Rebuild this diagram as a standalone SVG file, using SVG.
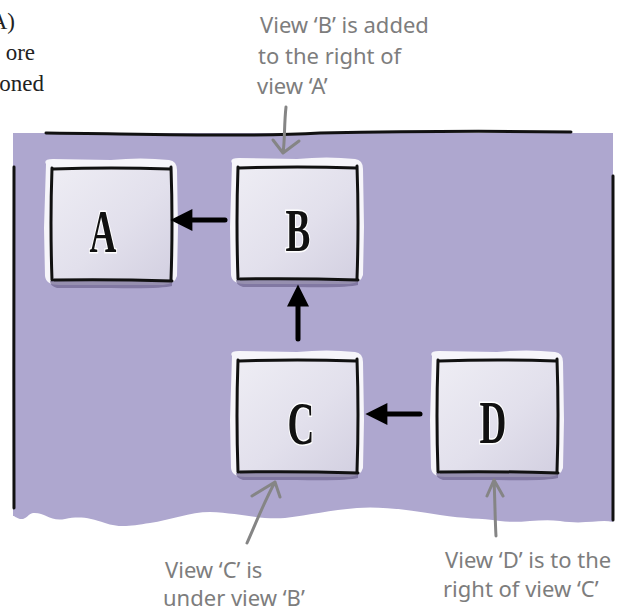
<svg xmlns="http://www.w3.org/2000/svg" width="631" height="612" viewBox="0 0 631 612">
<style>
.note{font-family:"Noto Sans","DejaVu Sans",sans-serif;font-size:22px;fill:#7d7d7d}
.serif{font-family:"Liberation Serif",serif;font-size:23px;fill:#222}
.lbl{font-family:"Liberation Serif",serif;font-weight:bold;font-size:62px;fill:#111;stroke:#fff;stroke-width:3;paint-order:stroke;text-anchor:middle}
.edge{fill:none;stroke:#111;stroke-width:3;stroke-linecap:round}
.conn{stroke:#000;stroke-width:5;stroke-linecap:round;fill:none}
.ptr{fill:none;stroke:#858585;stroke-width:3;stroke-linecap:round;stroke-linejoin:round}
</style>
<defs>
<linearGradient id="face" x1="0" y1="0" x2="1" y2="1">
<stop offset="0" stop-color="#eeedf4"/>
<stop offset="0.55" stop-color="#e2e0ec"/>
<stop offset="1" stop-color="#d3d0e1"/>
</linearGradient>
<marker id="ah" viewBox="0 0 10 10" refX="2" refY="5" markerWidth="5.6" markerHeight="4.4" orient="auto-start-reverse" markerUnits="strokeWidth">
<path d="M0,0 L10,5 L0,10 Z" fill="#000"/>
</marker>
<g id="box">
<path d="M-5,-4 Q-8,-9 2,-9 L60,-8 Q90,-11 118,-8 Q126,-7 126,2 L127,60 L126,108 Q124,116 112,117 L8,117 Q-5,117 -6,108 L-7,60 Z" fill="#f6f5fa"/>
<path d="M-1,113 L121,113 L121,118 Q110,121 60,120 L6,120 Q-1,118 -1,113 Z" fill="#6d648f" opacity="0.7"/>
<rect x="0" y="0" width="121" height="112" fill="url(#face)"/>
<path class="edge" d="M2,1 Q60,-1 119,1"/>
<path class="edge" d="M1,0 Q-1,55 1,112"/>
<path class="edge" d="M120,-1 Q122,55 120,112"/>
<path class="edge" d="M3,112 Q60,111 121,113"/>
</g>
</defs>
<rect width="631" height="612" fill="#fff"/>
<g id="intro-text">
<text class="serif" x="15" y="29" text-anchor="end">A)</text>
<text class="serif" x="35" y="60" text-anchor="end">ore</text>
<text class="serif" x="44" y="91" text-anchor="end">oned</text>
</g>
<g id="layout">
<path d="M13,133 L613,133 L613,522 C600,519 585,525 560,521 C540,518 520,524 500,521 C480,518 465,519 440,515 C410,510 380,506 357,508 C330,510 310,515 285,518 C260,520 240,513 210,512 C190,512 170,520 150,523 C130,526 120,528 105,523 C90,518 80,516 65,519 C50,522 45,512 33,513 C28,514 26,520 20,519 C16,518 15,516 13,516 Z" fill="#aea7cf"/>
<path class="edge" d="M46,133 C150,134 250,137 320,133 C420,131 500,131 571,132"/>
<path class="edge" d="M14,167 C15,250 13,400 14,508"/>
<path class="edge" d="M613,176 C612,260 614,420 613,520"/>
</g>
<g id="node-A">
<use href="#box" x="51" y="168"/>
<text class="lbl" x="0" y="0" transform="translate(103,252) scale(0.6,1)">A</text>
</g>
<g id="node-B">
<use href="#box" x="237" y="167"/>
<text class="lbl" x="0" y="0" transform="translate(298,251) scale(0.6,1)">B</text>
</g>
<g id="node-C">
<use href="#box" x="237" y="360"/>
<text class="lbl" x="0" y="0" transform="translate(301,444) scale(0.6,1)">C</text>
</g>
<g id="node-D">
<use href="#box" x="437" y="360"/>
<text class="lbl" x="0" y="0" transform="translate(493,443) scale(0.6,1)">D</text>
</g>
<g id="connectors">
<line class="conn" x1="225" y1="220" x2="188" y2="220" marker-end="url(#ah)"/>
<line class="conn" x1="298" y1="339" x2="298" y2="302" marker-end="url(#ah)"/>
<line class="conn" x1="420" y1="414" x2="383" y2="414" marker-end="url(#ah)"/>
</g>
<g id="annotations">
<text class="note" x="260" y="33">View ‘B’ is added</text>
<text class="note" x="258" y="64">to the right of</text>
<text class="note" x="257" y="94">view ‘A’</text>
<path class="ptr" d="M286,107 C284,125 285,140 283,153 M273,140 L283,153 L299,141"/>
<path class="ptr" d="M247,543 C255,525 265,500 275,482 M252,496 L275,482 L280,497"/>
<path class="ptr" d="M496,536 C495,520 495,500 494,480 M487,496 L494,480 L503,496"/>
<text class="note" x="165" y="578">View ‘C’ is</text>
<text class="note" x="163" y="606">under view ‘B’</text>
<text class="note" x="445" y="568">View ‘D’ is to the</text>
<text class="note" x="443" y="597">right of view ‘C’</text>
</g>
</svg>
